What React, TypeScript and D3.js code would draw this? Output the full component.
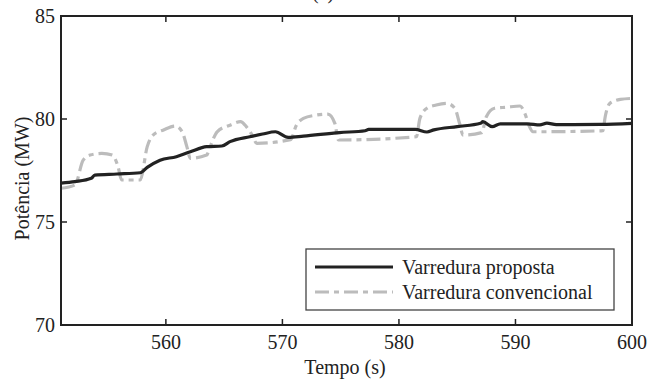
import React from "react";
import * as d3 from "d3";

const xTicks = [560, 570, 580, 590, 600];
const yTicks = [70, 75, 80, 85];
const seriesNames = ["Varredura proposta", "Varredura convencional"];

const tProp = [551, 552.2, 553.6, 553.9, 555.8, 557.8, 558.4, 559.5, 560.9, 562.1, 563.5, 564.8, 565.5, 567.2, 568.3, 569.4, 570.5, 571.8, 574.9, 577.1, 577.4, 579.2, 581.4, 582.4, 583.0, 585.0, 587.0, 587.2, 588.0, 588.7, 591.0, 592.1, 592.7, 593.5, 597.3, 600];
const vProp = [76.89, 76.96, 77.12, 77.28, 77.33, 77.39, 77.65, 78.0, 78.17, 78.41, 78.66, 78.69, 78.9, 79.14, 79.27, 79.38, 79.11, 79.17, 79.34, 79.43, 79.5, 79.5, 79.5, 79.37, 79.47, 79.63, 79.79, 79.87, 79.63, 79.76, 79.76, 79.71, 79.8, 79.73, 79.74, 79.79];

const tConv = [551, 552.2, 552.9, 553.5, 554.5, 555.4, 555.9, 556.2, 557.8, 558.4, 558.9, 559.8, 560.8, 561.4, 561.8, 562.1, 563.5, 563.8, 564.4, 565.5, 566.4, 566.9, 567.4, 567.8, 570.7, 571.2, 571.8, 572.9, 573.9, 574.5, 574.8, 581.5, 581.8, 582.4, 583.2, 584.1, 584.8, 585.2, 585.5, 587.1, 587.5, 588.2, 589.2, 590.4, 590.8, 591.2, 591.5, 597.5, 597.7, 598.1, 599.0, 600];
const vConv = [76.64, 76.8, 78.0, 78.25, 78.33, 78.25, 77.68, 77.04, 77.04, 78.66, 79.22, 79.47, 79.66, 79.38, 78.66, 78.09, 78.25, 78.66, 79.38, 79.7, 79.87, 79.63, 79.22, 78.82, 79.0, 79.7, 80.03, 80.19, 80.24, 79.79, 78.98, 79.14, 80.03, 80.52, 80.68, 80.76, 80.52, 79.79, 79.22, 79.34, 80.11, 80.52, 80.57, 80.63, 80.28, 79.63, 79.38, 79.43, 80.11, 80.76, 80.95, 81.0];

const W = 651, H = 380;
const L = 61, R = 632, T = 16, B = 325;
const FONT = "'Liberation Serif', 'Times New Roman', serif";

export default function App() {
  const x = d3.scaleLinear().domain([551, 600]).range([L, R]);
  const y = d3.scaleLinear().domain([70, 85]).range([B, T]);
  const line = d3
    .line<[number, number]>()
    .x((d) => x(d[0]))
    .y((d) => y(d[1]))
    .curve(d3.curveMonotoneX);
  const propData = tProp.map((t, i) => [t, vProp[i]] as [number, number]);
  const convData = tConv.map((t, i) => [t, vConv[i]] as [number, number]);
  const axisColor = "#222";
  const tl = 6;
  const dash = "14,5,5,5";
  return (
    <svg width={W} height={H} style={{ position: "absolute", left: 0, top: 0, background: "#fff" }} fontFamily={FONT}>
      <rect x={0} y={0} width={W} height={H} fill="#fff" />
      <text x={323} y={-1} fontSize={20} textAnchor="middle" fill="#222">(a)</text>
      <path d={line(convData) || ""} fill="none" stroke="#bcbcbc" strokeWidth={3.2} strokeDasharray={dash} />
      <path d={line(propData) || ""} fill="none" stroke="#222" strokeWidth={3.2} />
      {/* ticks */}
      {xTicks.map((t) => (
        <g key={"xt" + t}>
          <line x1={x(t)} x2={x(t)} y1={B} y2={B - tl} stroke={axisColor} strokeWidth={1.5} />
          <line x1={x(t)} x2={x(t)} y1={T} y2={T + tl} stroke={axisColor} strokeWidth={1.5} />
          <text x={x(t)} y={349} fontSize={20} textAnchor="middle" fill="#222">{t}</text>
        </g>
      ))}
      {yTicks.map((v) => (
        <g key={"yt" + v}>
          <line x1={L} x2={L + tl} y1={y(v)} y2={y(v)} stroke={axisColor} strokeWidth={1.5} />
          <line x1={R} x2={R - tl} y1={y(v)} y2={y(v)} stroke={axisColor} strokeWidth={1.5} />
          <text x={55} y={y(v)} dy="0.35em" fontSize={20} textAnchor="end" fill="#222">{v}</text>
        </g>
      ))}
      <rect x={L} y={T} width={R - L} height={B - T} fill="none" stroke={axisColor} strokeWidth={2} />
      <text x={345} y={374} fontSize={20} textAnchor="middle" fill="#222">Tempo (s)</text>
      <text transform={`translate(29,${(T + B) / 2 + 8}) rotate(-90)`} fontSize={20} textAnchor="middle" fill="#222">Potência (MW)</text>
      {/* legend */}
      <g>
        <rect x={306} y={249} width={308} height={61} fill="#fff" stroke="#444" strokeWidth={1.3} />
        <line x1={315} x2={393} y1={267} y2={267} stroke="#222" strokeWidth={3.2} />
        <text x={402} y={267} dy="0.35em" fontSize={20} fill="#222">{seriesNames[0]}</text>
        <line x1={315} x2={393} y1={292} y2={292} stroke="#bcbcbc" strokeWidth={3.2} strokeDasharray={dash} />
        <text x={402} y={292} dy="0.35em" fontSize={20} fill="#222">{seriesNames[1]}</text>
      </g>
    </svg>
  );
}
